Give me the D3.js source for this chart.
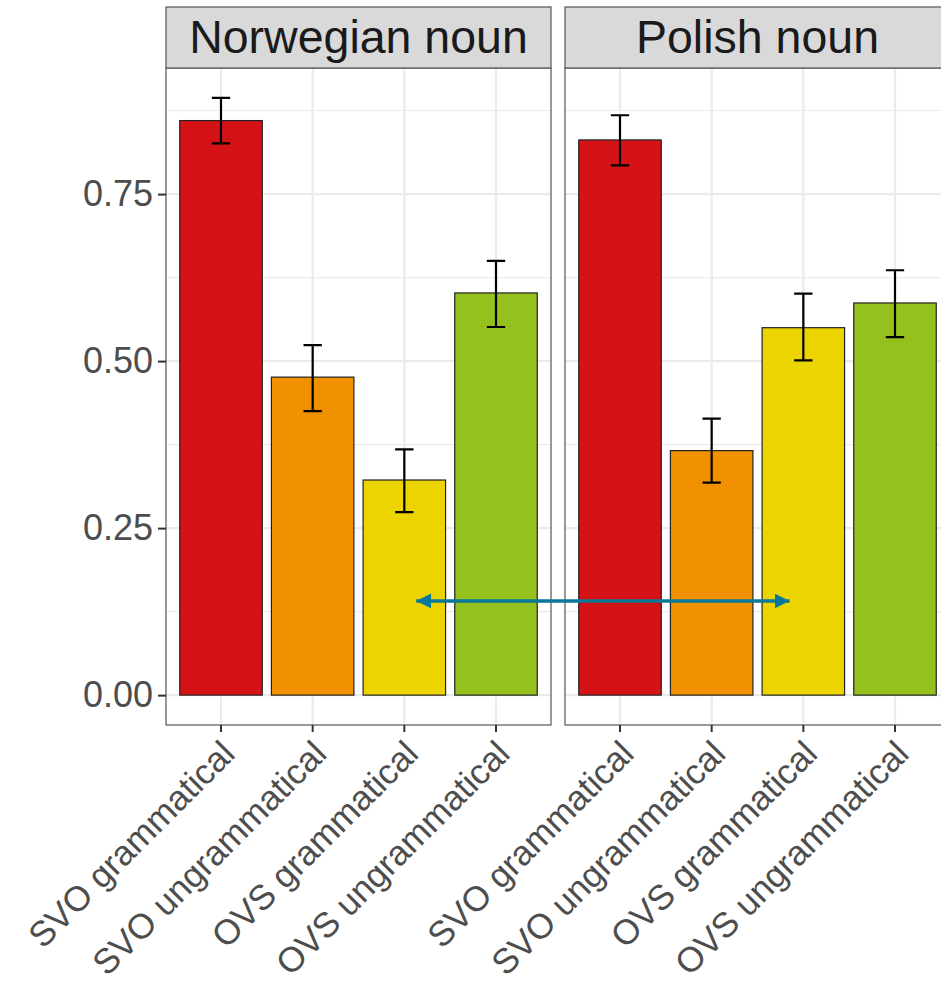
<!DOCTYPE html>
<html>
<head>
<meta charset="utf-8">
<script src="https://cdn.jsdelivr.net/npm/d3@7"></script>
<style>
  body { margin: 0; background: #fff; }
  text { font-family: 'Liberation Sans', Arial, sans-serif; }
</style>
</head>
<body>
<div class="chart"></div>
<script>
const WIDTH = 941;
const HEIGHT = 989;

// data
const panels = ['Norwegian noun', 'Polish noun'];
const conditions = ['SVO grammatical', 'SVO ungrammatical', 'OVS grammatical', 'OVS ungrammatical'];
const barColors = ['#d51317', '#f29100', '#ecd400', '#95c11f'];
const norwegianMeans = [0.860, 0.476, 0.322, 0.602];
const norwegianLower = [0.826, 0.425, 0.274, 0.551];
const norwegianUpper = [0.894, 0.524, 0.368, 0.650];
const polishMeans = [0.831, 0.366, 0.550, 0.587];
const polishLower = [0.793, 0.318, 0.501, 0.536];
const polishUpper = [0.868, 0.414, 0.601, 0.636];
const yTicks = [0, 0.25, 0.5, 0.75];
const yMinorTicks = [0.125, 0.375, 0.625, 0.875];
// annotation arrow: from Norwegian panel position to Polish panel position
const arrowValue = 0.141;
const arrowStart = { panel: 'Norwegian noun', pos: 3.13 };
const arrowEnd = { panel: 'Polish noun', pos: 2.85 };

const panelData = [
  { name: panels[0], means: norwegianMeans, lower: norwegianLower, upper: norwegianUpper },
  { name: panels[1], means: polishMeans, lower: polishLower, upper: polishUpper }
];

const PANEL_LEFT = 166;
const PANEL_WIDTH = 385;
const PANEL_GAP = 14;
const STRIP_TOP = 7;
const PANEL_TOP = 68;
const PANEL_BOTTOM = 725;

const svg = d3.select('.chart')
  .append('svg')
  .attr('width', WIDTH)
  .attr('height', HEIGHT);

const yMax = d3.max(panelData, p => d3.max(p.upper));
const yPad = yMax * 0.05;
const yScale = d3.scaleLinear()
  .domain([-yPad, yMax + yPad])
  .range([PANEL_BOTTOM, PANEL_TOP]);

const xBand = d3.scaleBand()
  .domain(conditions)
  .range([0, PANEL_WIDTH])
  .paddingInner(0.1)
  .paddingOuter(0.15);

// numeric position scale (category index 1..4) for the annotation
const xPos = d3.scaleLinear()
  .domain([0.4, conditions.length + 0.6])
  .range([0, PANEL_WIDTH]);

const panelX = d3.scaleOrdinal()
  .domain(panels)
  .range([PANEL_LEFT, PANEL_LEFT + PANEL_WIDTH + PANEL_GAP]);

panelData.forEach(p => {
  const g = svg.append('g')
    .attr('transform', `translate(${panelX(p.name)},0)`);

  g.append('rect')
    .attr('x', 0).attr('y', PANEL_TOP)
    .attr('width', PANEL_WIDTH).attr('height', PANEL_BOTTOM - PANEL_TOP)
    .attr('fill', '#fff');

  // grid
  g.selectAll('.minor')
    .data(yMinorTicks)
    .enter()
    .append('line')
    .attr('x1', 0).attr('x2', PANEL_WIDTH)
    .attr('y1', d => yScale(d)).attr('y2', d => yScale(d))
    .attr('stroke', '#ebebeb').attr('stroke-width', 1.1);

  g.selectAll('.major')
    .data(yTicks)
    .enter()
    .append('line')
    .attr('x1', 0).attr('x2', PANEL_WIDTH)
    .attr('y1', d => yScale(d)).attr('y2', d => yScale(d))
    .attr('stroke', '#ebebeb').attr('stroke-width', 2.2);

  g.selectAll('.vgrid')
    .data(conditions)
    .enter()
    .append('line')
    .attr('x1', d => xBand(d) + xBand.bandwidth() / 2)
    .attr('x2', d => xBand(d) + xBand.bandwidth() / 2)
    .attr('y1', PANEL_TOP).attr('y2', PANEL_BOTTOM)
    .attr('stroke', '#ebebeb').attr('stroke-width', 2.2);

  // bars
  g.selectAll('.bar')
    .data(conditions)
    .enter()
    .append('rect')
    .attr('x', d => xBand(d))
    .attr('y', (d, i) => yScale(p.means[i]))
    .attr('width', xBand.bandwidth())
    .attr('height', (d, i) => yScale(0) - yScale(p.means[i]))
    .attr('fill', (d, i) => barColors[i])
    .attr('stroke', '#222')
    .attr('stroke-width', 1.2);

  // error bars
  const capHalf = xPos(1.1) - xPos(1);
  const err = g.selectAll('.err')
    .data(conditions)
    .enter()
    .append('g')
    .attr('stroke', '#000')
    .attr('stroke-width', 2.2)
    .attr('fill', 'none');
  err.append('path')
    .attr('d', (d, i) => {
      const cx = xBand(d) + xBand.bandwidth() / 2;
      const y1 = yScale(p.upper[i]);
      const y0 = yScale(p.lower[i]);
      return `M${cx - capHalf},${y1}H${cx + capHalf}M${cx},${y1}V${y0}M${cx - capHalf},${y0}H${cx + capHalf}`;
    });

  // panel border
  g.append('rect')
    .attr('x', 0).attr('y', PANEL_TOP)
    .attr('width', PANEL_WIDTH).attr('height', PANEL_BOTTOM - PANEL_TOP)
    .attr('fill', 'none')
    .attr('stroke', '#555').attr('stroke-width', 1.2);

  // strip
  g.append('rect')
    .attr('x', 0).attr('y', STRIP_TOP)
    .attr('width', PANEL_WIDTH).attr('height', PANEL_TOP - STRIP_TOP)
    .attr('fill', '#d9d9d9')
    .attr('stroke', '#555').attr('stroke-width', 1.2);
  g.append('text')
    .attr('x', PANEL_WIDTH / 2)
    .attr('y', 53)
    .attr('text-anchor', 'middle')
    .attr('font-size', 46.5)
    .attr('fill', '#1a1a1a')
    .text(p.name);

  // x axis
  const xAxis = d3.axisBottom(xBand).tickSize(7).tickPadding(4).tickFormat('');
  const ax = g.append('g')
    .attr('transform', `translate(0,${PANEL_BOTTOM})`)
    .call(xAxis);
  ax.select('.domain').remove();
  ax.selectAll('line').attr('stroke', '#333').attr('stroke-width', 2);

  g.selectAll('.xlab')
    .data(conditions)
    .enter()
    .append('text')
    .attr('transform', d => `translate(${xBand(d) + xBand.bandwidth() / 2 - 2},${PANEL_BOTTOM + 13}) rotate(-45)`)
    .attr('text-anchor', 'end')
    .attr('dy', '0.72em')
    .attr('font-size', 35)
    .attr('fill', '#4d4d4d')
    .text(d => d);
});

// y axis
const yAxis = d3.axisLeft(yScale)
  .tickValues(yTicks)
  .tickSize(8)
  .tickPadding(5)
  .tickFormat(d3.format('.2f'));
const yg = svg.append('g')
  .attr('transform', `translate(${PANEL_LEFT},0)`)
  .call(yAxis);
yg.select('.domain').remove();
yg.selectAll('line').attr('stroke', '#333').attr('stroke-width', 2);
yg.selectAll('text')
  .attr('font-size', 36)
  .attr('font-family', "'Liberation Sans', Arial, sans-serif")
  .attr('fill', '#4d4d4d');

// annotation arrow across the panels
const ax0 = panelX(arrowStart.panel) + xPos(arrowStart.pos);
const ax1 = panelX(arrowEnd.panel) + xPos(arrowEnd.pos);
const ay = yScale(arrowValue);
const defs = svg.append('defs');
defs.append('marker')
  .attr('id', 'head')
  .attr('viewBox', '0 0 10 10')
  .attr('refX', 10).attr('refY', 5)
  .attr('markerUnits', 'userSpaceOnUse')
  .attr('markerWidth', 15).attr('markerHeight', 16)
  .attr('orient', 'auto-start-reverse')
  .append('path')
  .attr('d', 'M0,0L10,5L0,10Z')
  .attr('fill', '#0a7898');

svg.append('line')
  .attr('x1', ax0).attr('x2', ax1)
  .attr('y1', ay).attr('y2', ay)
  .attr('stroke', '#0a7898')
  .attr('stroke-width', 3.5)
  .attr('marker-start', 'url(#head)')
  .attr('marker-end', 'url(#head)');
</script>
</body>
</html>
